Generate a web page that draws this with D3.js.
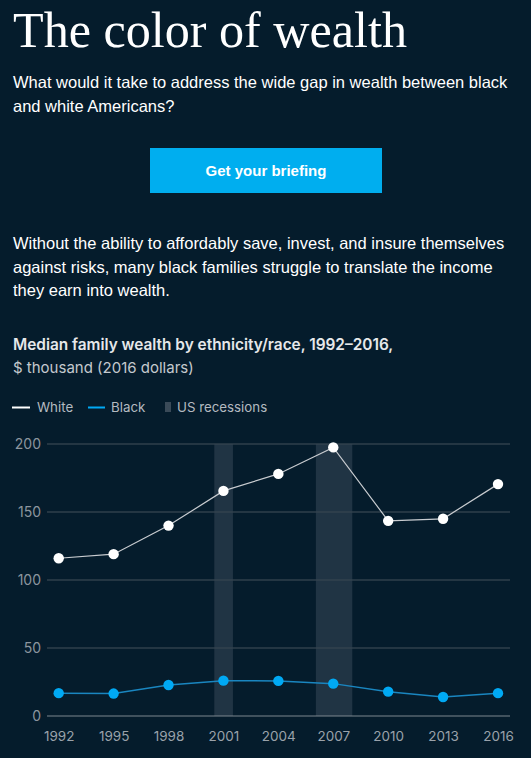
<!DOCTYPE html>
<html>
<head>
<meta charset="utf-8">
<script src="https://cdn.jsdelivr.net/npm/d3@7"></script>
<style>
  html, body { margin: 0; padding: 0; background: #051c2c; }
  svg { display: block; }
</style>
</head>
<body>
<svg id="c" width="531" height="758"></svg>
<script>
const years = [1992, 1995, 1998, 2001, 2004, 2007, 2010, 2013, 2016];
const whiteWealth = [116, 119, 140, 165.5, 178, 197.5, 143.5, 145, 170.5];
const blackWealth = [16.8, 16.5, 22.8, 26, 25.8, 23.8, 17.9, 14, 16.8];
const recessions = [[2000.5, 2001.52], [2006.05, 2008.04]];
const yTicks = [0, 50, 100, 150, 200];
const xTicks = years;

const svg = d3.select("#c");
svg.append("rect").attr("width", 531).attr("height", 758).attr("fill", "#051c2c");

// Header texts
svg.append("text").attr("x", 13).attr("y", 47)
  .attr("font-family", "Georgia, 'Liberation Serif', serif").attr("font-size", 51)
  .attr("textLength", 394).attr("lengthAdjust", "spacingAndGlyphs")
  .attr("fill", "#ffffff").text("The color of wealth");

const sans = "Arial, 'Liberation Sans', sans-serif";
const intro = ["What would it take to address the wide gap in wealth between black", "and white Americans?"];
intro.forEach((t, i) => svg.append("text").attr("x", 13).attr("y", 88 + i * 23.5)
  .attr("font-family", sans).attr("font-size", 16.5).attr("fill", "#ffffff").text(t));

svg.append("rect").attr("x", 150).attr("y", 148).attr("width", 232).attr("height", 45).attr("fill", "#00aeef");
svg.append("text").attr("x", 266).attr("y", 176).attr("text-anchor", "middle")
  .attr("font-family", sans).attr("font-weight", "bold").attr("font-size", 15).attr("fill", "#ffffff")
  .text("Get your briefing");

const body = ["Without the ability to affordably save, invest, and insure themselves",
  "against risks, many black families struggle to translate the income",
  "they earn into wealth."];
body.forEach((t, i) => svg.append("text").attr("x", 13).attr("y", 249 + i * 23.5)
  .attr("font-family", sans).attr("font-size", 16.5).attr("fill", "#ffffff").text(t));

const cf = "Inter, Roboto, 'Noto Sans', sans-serif";
svg.append("text").attr("x", 13).attr("y", 350).attr("font-family", cf).attr("font-weight", 600)
  .attr("font-size", 15.4).attr("fill", "#e6e8ea").text("Median family wealth by ethnicity/race, 1992\u20132016,");
svg.append("text").attr("x", 13).attr("y", 373).attr("font-family", cf)
  .attr("font-size", 15).attr("fill", "#c4c9ce").text("$ thousand (2016 dollars)");

// Legend
const lg = svg.append("g").attr("font-family", cf).attr("font-size", 13.3).attr("fill", "#b4bac0");
lg.append("line").attr("x1", 12).attr("x2", 30).attr("y1", 407.5).attr("y2", 407.5).attr("stroke", "#ffffff").attr("stroke-width", 2);
lg.append("text").attr("x", 37).attr("y", 412).text("White");
lg.append("line").attr("x1", 88).attr("x2", 105).attr("y1", 407.5).attr("y2", 407.5).attr("stroke", "#00a9f4").attr("stroke-width", 2);
lg.append("text").attr("x", 111).attr("y", 412).text("Black");
lg.append("rect").attr("x", 165).attr("y", 402).attr("width", 6).attr("height", 10).attr("fill", "#3a4a58");
lg.append("text").attr("x", 177).attr("y", 412).text("US recessions");

// Chart
const x = d3.scaleLinear().domain([1992, 2016]).range([58.7, 498]);
const y = d3.scaleLinear().domain([0, 200]).range([716, 444]);

const g = svg.append("g");
g.selectAll("rect.rec").data(recessions).join("rect").attr("class", "rec")
  .attr("x", d => x(d[0])).attr("width", d => x(d[1]) - x(d[0]))
  .attr("y", y(200)).attr("height", y(0) - y(200)).attr("fill", "#203444");

const yAxis = d3.axisLeft(y).tickValues(yTicks).tickSize(0).tickPadding(0);
const ya = g.append("g").attr("transform", "translate(41,0)").call(yAxis);
ya.select(".domain").remove();
ya.selectAll("text").attr("font-family", cf).attr("font-size", 14).attr("fill", "#8c959e").attr("dy", "0.35em");

g.selectAll("line.grid").data(yTicks).join("line").attr("class", "grid")
  .attr("x1", 47).attr("x2", 510).attr("y1", d => y(d)).attr("y2", d => y(d))
  .attr("stroke", d => d === 0 ? "#8a9299" : "#34434f").attr("stroke-width", d => d === 0 ? 1.2 : 1.3)
  .attr("stroke-opacity", 0.9);

const xAxis = d3.axisBottom(x).tickValues(xTicks).tickFormat(d3.format("d")).tickSize(0).tickPadding(0);
const xa = g.append("g").attr("transform", "translate(0,731)").call(xAxis);
xa.select(".domain").remove();
xa.selectAll("text").attr("font-family", cf).attr("font-size", 13.5).attr("fill", "#9aa2aa").attr("dy", "0.71em");

const line = d3.line().x((d, i) => x(years[i])).y(d => y(d));
g.append("path").datum(whiteWealth).attr("d", line).attr("fill", "none").attr("stroke", "#c9ccd0").attr("stroke-width", 1.2);
g.append("path").datum(blackWealth).attr("d", line).attr("fill", "none").attr("stroke", "#1a86c0").attr("stroke-width", 1.5);

g.selectAll("circle.w").data(whiteWealth).join("circle").attr("class", "w")
  .attr("cx", (d, i) => x(years[i])).attr("cy", d => y(d)).attr("r", 5.2).attr("fill", "#ffffff");
g.selectAll("circle.b").data(blackWealth).join("circle").attr("class", "b")
  .attr("cx", (d, i) => x(years[i])).attr("cy", d => y(d)).attr("r", 5.2).attr("fill", "#00a9f4");
</script>
</body>
</html>
